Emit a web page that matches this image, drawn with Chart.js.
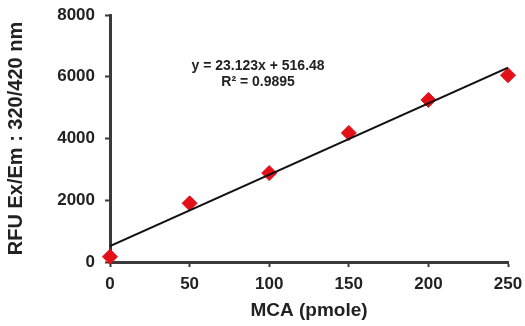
<!DOCTYPE html>
<html>
<head>
<meta charset="utf-8">
<script src="https://cdn.jsdelivr.net/npm/chart.js@4.4.0/dist/chart.umd.min.js"></script>
<style>
  html, body { margin: 0; padding: 0; background: #fff; }
  #wrap { width: 525px; height: 326px; position: relative; }
</style>
</head>
<body>
<div id="wrap"><canvas id="mcaChart"></canvas></div>
<script>
// MCA standard curve values
const mcaAmounts = [0, 50, 100, 150, 200, 250];
const rfuValues = [170, 1900, 2880, 4180, 5250, 6050];

// linear trendline ends (Excel fit shown on chart)
const trendX = [0, 250];
const trendY = [516.48, 6297.23];
const trendLabels = ['y = 23.123x + 516.48', 'R\u00b2 = 0.9895'];

const xTicks = [0, 50, 100, 150, 200, 250];
const yTicks = [0, 2000, 4000, 6000, 8000];

const FONT = "'Liberation Sans', Arial, sans-serif";
const AXIS_COLOR = '#3a3a3a';

// draws the trendline equation text
const equationPlugin = {
  id: 'equation',
  afterDatasetsDraw(chart) {
    const ctx = chart.ctx;
    const xs = chart.scales.x;
    const ys = chart.scales.y;
    const cx = xs.getPixelForValue(93);
    ctx.save();
    ctx.fillStyle = '#222';
    ctx.font = 'bold 14px ' + FONT;
    ctx.textAlign = 'center';
    ctx.textBaseline = 'middle';
    ctx.fillText(trendLabels[0], cx, ys.getPixelForValue(6350));
    ctx.fillText(trendLabels[1], cx, ys.getPixelForValue(5820));
    ctx.restore();
  }
};

const ctx = document.getElementById('mcaChart').getContext('2d');
new Chart(ctx, {
  type: 'scatter',
  data: {
    datasets: [
      {
        label: 'Trendline',
        data: trendX.map((x, i) => ({ x: x, y: trendY[i] })),
        showLine: true,
        borderColor: '#111',
        borderWidth: 2,
        pointRadius: 0,
        order: 0,
      },
      {
        label: 'RFU',
        data: mcaAmounts.map((x, i) => ({ x: x, y: rfuValues[i] })),
        pointStyle: 'rectRot',
        pointRadius: 7.5,
        backgroundColor: '#e3101a',
        borderColor: '#e3101a',
        borderWidth: 1,
        clip: false,
        order: 1,
      }
    ]
  },
  options: {
    responsive: true,
    maintainAspectRatio: false,
    animation: false,
    layout: { padding: 0 },
    plugins: {
      legend: { display: false },
      tooltip: { enabled: false }
    },
    scales: {
      x: {
        type: 'linear',
        min: 0,
        max: 250,
        afterBuildTicks: (scale) => { scale.ticks = xTicks.map(v => ({ value: v })); },
        afterFit: (scale) => {
          scale.height = 64;
          scale.paddingRight = 17;
          scale.paddingLeft = 0;
        },
        grid: {
          drawOnChartArea: false,
          drawTicks: true,
          tickLength: 5,
          tickWidth: 2,
          tickColor: AXIS_COLOR,
        },
        border: { display: true, color: AXIS_COLOR, width: 3 },
        ticks: {
          color: '#222',
          padding: 7,
          maxRotation: 0,
          callback: (v) => String(v),
          font: { family: FONT, size: 17, weight: 'bold' }
        },
        title: {
          display: true,
          text: 'MCA (pmole)',
          color: '#222',
          padding: { top: 0 },
          font: { family: FONT, size: 19, weight: 'bold' }
        }
      },
      y: {
        type: 'linear',
        min: 0,
        max: 8000,
        afterBuildTicks: (scale) => { scale.ticks = yTicks.map(v => ({ value: v })); },
        afterFit: (scale) => {
          scale.width = 110;
          scale.paddingTop = 15;
          scale.paddingBottom = 0;
        },
        grid: {
          drawOnChartArea: false,
          drawTicks: true,
          tickLength: 5,
          tickWidth: 2,
          tickColor: AXIS_COLOR,
        },
        border: { display: true, color: AXIS_COLOR, width: 3 },
        ticks: {
          color: '#222',
          padding: 10,
          callback: (v) => String(v),
          font: { family: FONT, size: 17, weight: 'bold' }
        },
        title: {
          display: true,
          text: 'RFU Ex/Em : 320/420 nm',
          color: '#222',
          padding: { bottom: 0 },
          font: { family: FONT, size: 20, weight: 'bold' }
        }
      }
    }
  },
  plugins: [equationPlugin]
});
</script>
</body>
</html>
